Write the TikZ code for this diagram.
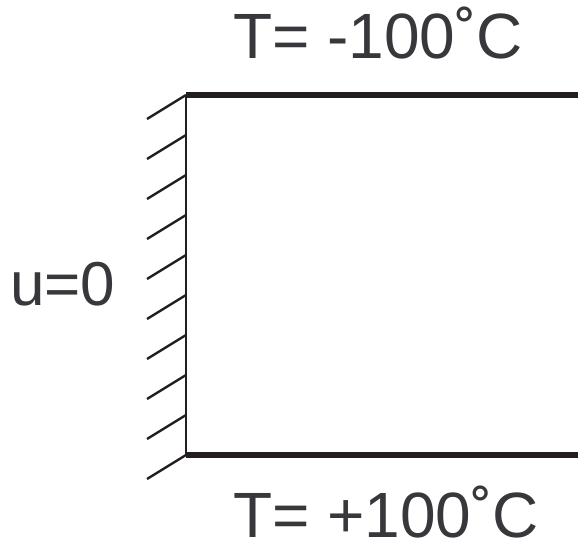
\documentclass[tikz,border=0pt]{standalone}
\usepackage{fontspec}
\setmainfont{Liberation Sans}
\usetikzlibrary{positioning}
\definecolor{ink}{RGB}{35,31,32}
\definecolor{textgray}{RGB}{55,55,60}
\tikzset{
  wall/.style={draw=ink,line width=2.6pt},
  edgeline/.style={draw=ink,line width=6pt},
  hatch/.style={draw=ink,line width=2.4pt},
  lbl/.style={text=textgray,inner sep=0pt,text depth=0pt,anchor=base west},
  biglbl/.style={lbl,font=\fontsize{64}{70}\selectfont},
  sidelbl/.style={lbl,font=\fontsize{62}{68}\selectfont}
}
\begin{document}
\begin{tikzpicture}[x=1pt,y=-1pt]
  \useasboundingbox (0,0) rectangle (578,544);
  % fixed wall with hatching
  \coordinate (wtop) at (186,95);
  \coordinate (wbot) at (186,455);
  \draw[wall] (wtop) -- (wbot);
  \foreach \y in {95,135,...,455}{\draw[hatch] (186,\y) -- ++(-39,24);}
  % plate edges
  \coordinate (tend) at (580,95);
  \coordinate (bend) at (580,455);
  \draw[edgeline] (wtop) -- (tend);
  \draw[edgeline] (wbot) -- (bend);
  % boundary conditions
  \node[biglbl] (ttop) at (233,58) {T= -100˚C};
  \node[biglbl] (tbot) at (233,537) {T= +100˚C};
  \node[sidelbl] (uzero) at (10,305) {u=0};
\end{tikzpicture}
\end{document}
